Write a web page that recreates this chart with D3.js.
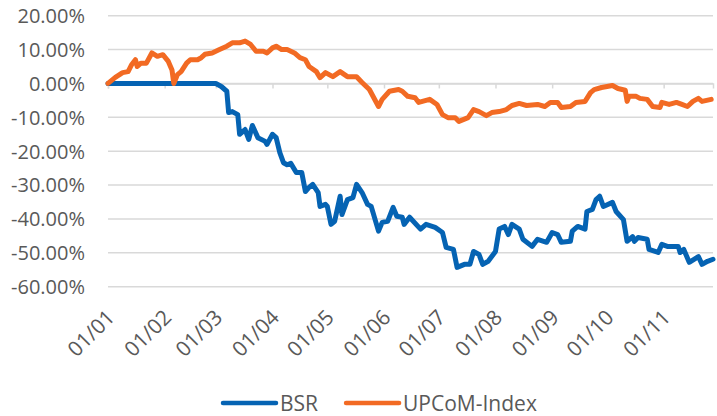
<!DOCTYPE html>
<html lang="vi">
<head>
<meta charset="utf-8">
<title>BSR vs UPCoM-Index</title>
<script src="https://d3js.org/d3.v7.min.js"></script>
<style>
  body { margin: 0; background: #fff; }
  text { font-family: 'Open Sans', sans-serif; fill: #595959; }
</style>
</head>
<body>
<svg id="chart" width="717" height="416"></svg>
<script>
// year of the series (non-leap)
var year = 2018;

// x axis tick labels (dd/mm)
var tickLabels = ["01/01", "01/02", "01/03", "01/04", "01/05", "01/06",
                  "01/07", "01/08", "01/09", "01/10", "01/11"];

// y axis ticks, percent
var yTicks = [20, 10, 0, -10, -20, -30, -40, -50, -60];

// BSR, % change
var bsrDates = ["01-01", "03-01", "03-04", "03-07", "03-08", "03-10", "03-13", "03-14", "03-17", "03-19",
  "03-21", "03-24", "03-28", "03-29", "04-01", "04-03", "04-05", "04-07", "04-09", "04-11",
  "04-14", "04-17", "04-19", "04-21", "04-23", "04-26", "04-27", "04-30", "05-01", "05-03",
  "05-05", "05-08", "05-09", "05-12", "05-15", "05-17", "05-20", "05-23", "05-25", "05-29",
  "05-31", "06-03", "06-06", "06-08", "06-11", "06-12", "06-15", "06-21", "06-24", "06-29",
  "07-03", "07-05", "07-09", "07-11", "07-15", "07-18", "07-20", "07-23", "07-25", "07-28",
  "08-01", "08-03", "08-06", "08-08", "08-10", "08-14", "08-16", "08-21", "08-24", "08-29",
  "09-01", "09-04", "09-06", "09-11", "09-12", "09-15", "09-19", "09-20", "09-23", "09-25",
  "09-27", "09-29", "10-04", "10-06", "10-10", "10-12", "10-15", "10-16", "10-18", "10-23",
  "10-24", "10-29", "10-31", "11-03", "11-09", "11-10", "11-12", "11-15", "11-20", "11-22",
  "11-25", "11-28"];
var bsrValues = [0, 0, -0.9, -2.3, -8.6, -8.3, -9.2, -15, -13.6, -16.5,
  -12.4, -16, -17.1, -18, -15, -16, -20.4, -23.4, -24, -23.6,
  -26.3, -26.3, -31.9, -30.7, -29.8, -32.2, -36.3, -35.7, -36.3, -41.6,
  -40.7, -33.3, -38.7, -34.3, -33.7, -29.8, -32.2, -35.7, -36.3, -43.6,
  -41, -40.7, -36.6, -39.2, -39.5, -41.6, -39.5, -43, -41.6, -42.5,
  -44, -48.4, -49, -54.3, -53.4, -53.4, -49.6, -50.5, -53.4, -52.5,
  -49.6, -43, -42.2, -44.6, -41.6, -43, -46, -48.1, -46, -46.9,
  -44, -44.6, -46.9, -46.6, -43.6, -42.2, -43, -37.8, -37.2, -34.3,
  -33.3, -36.3, -35.1, -37.8, -40.2, -46.6, -45.2, -46.6, -45.5, -46,
  -49, -49.9, -47.5, -48.1, -48.1, -49.9, -49, -52.8, -51.1, -53.4,
  -52.5, -51.9];

// UPCoM-Index, % change
var upcomDates = ["01-01", "01-05", "01-09", "01-12", "01-14", "01-16", "01-17", "01-19", "01-22", "01-25",
  "01-28", "01-31", "02-03", "02-05", "02-06", "02-08", "02-10", "02-13", "02-15", "02-19",
  "02-21", "02-23", "02-27", "03-03", "03-07", "03-10", "03-14", "03-17", "03-20", "03-23",
  "03-27", "03-29", "04-01", "04-03", "04-06", "04-09", "04-13", "04-16", "04-19", "04-21",
  "04-25", "04-27", "04-30", "05-02", "05-04", "05-08", "05-12", "05-17", "05-20", "05-24",
  "05-29", "05-31", "06-04", "06-09", "06-11", "06-14", "06-18", "06-20", "06-22", "06-26",
  "06-30", "07-03", "07-06", "07-10", "07-12", "07-17", "07-20", "07-23", "07-27", "07-30",
  "08-03", "08-07", "08-10", "08-14", "08-18", "08-24", "08-28", "08-31", "09-04", "09-06",
  "09-11", "09-14", "09-19", "09-22", "09-24", "09-28", "10-01", "10-04", "10-07", "10-11",
  "10-12", "10-13", "10-17", "10-19", "10-23", "10-26", "10-30", "10-31", "11-04", "11-08",
  "11-11", "11-14", "11-17", "11-20", "11-22", "11-27"];
var upcomValues = [0, 1.8, 3.2, 3.5, 5.6, 7, 5, 6, 6, 9,
  8, 8.5, 6.5, 4, 0, 2.6, 3.5, 6, 7, 7,
  7.6, 8.6, 9, 10, 11, 12, 12, 12.5, 11.5, 9.5,
  9.5, 9, 10.5, 11, 10, 10, 9, 7.6, 7, 5,
  3.5, 1.7, 3.2, 2.6, 2, 3.5, 2, 2, 0.3, -1.8,
  -6.8, -4.7, -2.3, -1.8, -2.3, -3.8, -4.2, -5.6, -5.3, -4.7,
  -6.2, -9.2, -10.1, -10.1, -11.2, -10.1, -7.7, -8.3, -9.5, -8.6,
  -8.3, -7.7, -6.5, -5.9, -6.5, -6.2, -6.8, -5.6, -5.6, -7.1,
  -6.8, -5.6, -5.3, -2.7, -1.8, -1.2, -0.9, -0.6, -1.5, -2,
  -5.3, -3.8, -3.8, -4.4, -4.7, -6.8, -7.1, -5.6, -6.2, -5.6,
  -6.2, -6.8, -5.3, -4.4, -5.3, -4.7];

var seriesNames = ["BSR", "UPCoM-Index"];
var colors = ["#0563b3", "#f26a23"];

var parse = d3.timeParse("%Y-%m-%d");
var parseTick = d3.timeParse("%d/%m/%Y");

function toPoints(dates, values) {
  return dates.map(function(d, i) {
    return { date: parse(year + "-" + d), value: values[i] };
  });
}

var series = [toPoints(bsrDates, bsrValues), toPoints(upcomDates, upcomValues)];

var svg = d3.select("#chart");

// plot area
var plotLeft = 108, plotRight = 713, plotTop = 15.7, plotBottom = 286.7;

var x = d3.scaleTime()
  .domain([parse(year + "-01-01"), parse(year + "-11-28")])
  .range([plotLeft, plotRight]);

var y = d3.scaleLinear()
  .domain([-60, 20])
  .range([plotBottom, plotTop]);

// gridlines
svg.append("g")
  .selectAll("line")
  .data(yTicks)
  .enter()
  .append("line")
  .attr("x1", plotLeft)
  .attr("x2", plotRight)
  .attr("y1", function(d) { return y(d); })
  .attr("y2", function(d) { return y(d); })
  .attr("stroke", "#d9d9d9")
  .attr("stroke-width", 1.5);

// y labels
svg.append("g")
  .selectAll("text")
  .data(yTicks)
  .enter()
  .append("text")
  .attr("x", 85)
  .attr("y", function(d) { return y(d) + 7.3; })
  .attr("text-anchor", "end")
  .style("font-size", "20px")
  .text(function(d) { return d.toFixed(2) + "%"; });

// x axis on 0%, ticks pointing down
var tickDates = tickLabels.map(function(t) { return parseTick(t + "/" + year); });

var xAxis = d3.axisBottom(x)
  .tickValues(tickDates)
  .tickSize(5)
  .tickFormat("");

var axisG = svg.append("g")
  .attr("transform", "translate(0," + y(0) + ")")
  .call(xAxis);
axisG.select(".domain").attr("stroke", "#d9d9d9").attr("stroke-width", 1.5);
axisG.selectAll(".tick line").attr("stroke", "#d9d9d9").attr("stroke-width", 1.5);

// x labels at the bottom, rotated
svg.append("g")
  .selectAll("text")
  .data(tickDates)
  .enter()
  .append("text")
  .attr("text-anchor", "end")
  .attr("transform", function(d) {
    return "translate(" + (x(d) + 8) + "," + (plotBottom + 32) + ") rotate(-45)";
  })
  .style("font-size", "21px")
  .text(function(d, i) { return tickLabels[i]; });

// lines
var line = d3.line()
  .x(function(d) { return x(d.date); })
  .y(function(d) { return y(d.value); });

svg.append("g")
  .selectAll("path")
  .data(series)
  .enter()
  .append("path")
  .attr("d", line)
  .attr("fill", "none")
  .attr("stroke", function(d, i) { return colors[i]; })
  .attr("stroke-width", 5)
  .attr("stroke-linejoin", "round")
  .attr("stroke-linecap", "round");

// legend
var legend = svg.append("g");
var lx = 222, ly = 403;
seriesNames.forEach(function(name, i) {
  legend.append("line")
    .attr("x1", lx + 1)
    .attr("x2", lx + 54)
    .attr("y1", ly)
    .attr("y2", ly)
    .attr("stroke", colors[i])
    .attr("stroke-width", 4.5)
    .attr("stroke-linecap", "round");
  var t = legend.append("text")
    .attr("x", lx + 58)
    .attr("y", ly + 7.5)
    .style("font-size", "21px")
    .text(name);
  lx = lx + 58 + t.node().getComputedTextLength() + 27;
});
</script>
</body>
</html>
